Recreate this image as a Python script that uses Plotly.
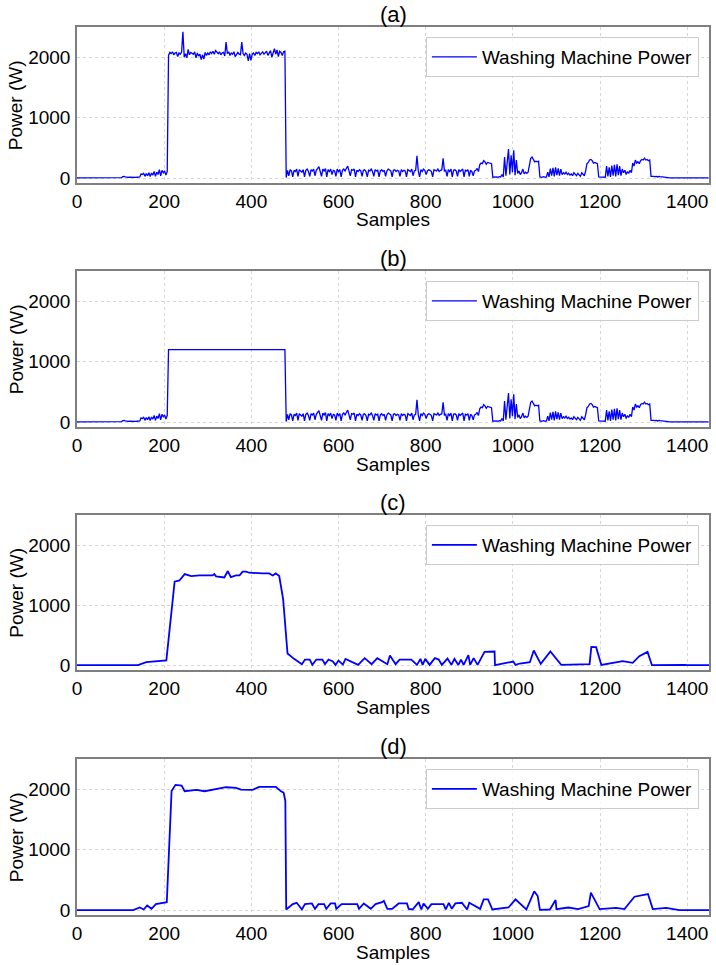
import plotly.graph_objects as go
from plotly.subplots import make_subplots

# ---------------- data ----------------
# sample index grids (every 3rd sample) for the raw signal
PRE_SAMPLES = list(range(0, 210, 3))        # 0 .. 207
PLATEAU_SAMPLES = list(range(210, 480, 3))  # 210 .. 477
POST_SAMPLES = list(range(480, 1450, 3))    # 480 .. 1449

LOW_PRE = [
    4, 4, 4, 4, 4, 4, 4, 4, 4, 4, 4, 4, 4, 4, 4, 4, 4,
    4, 4, 4, 4, 4, 4, 4, 4, 4, 4, 4, 4, 4, 4, 4, 4, 4,
    8, 25, 30, 22, 15, 14, 15, 12, 14, 15, 14, 12, 15, 14, 20,
    70, 60, 80, 30, 75, 40, 90, 25, 85, 50, 110, 30, 100, 60, 140, 40, 130, 90, 120, 50, 110,
]

A_PLATEAU = [
    2030, 2080, 2060, 2090, 2040, 2070, 2080, 2010, 2070, 2050,
    2090, 2420, 2000, 2060, 1990, 2130, 2040, 2080, 2060, 2050,
    2090, 1990, 2070, 2020, 2050, 1960, 2040, 1970, 2080, 2030,
    2070, 2040, 2090, 2060, 2100, 2050, 2110, 2080, 2060, 2090,
    2040, 2070, 2080, 2020, 2250, 2060, 2090, 2030, 2070, 2050,
    2090, 2010, 2060, 2080, 2050, 2040, 2250, 2060, 2030, 2070,
    2050, 1940, 2060, 1950, 2050, 2070, 2030, 2080, 2060, 2090,
    2040, 2070, 2090, 2050, 2080, 2100, 2030, 2060, 2110, 2000,
    2090, 2140, 2050, 2120, 2010, 2100, 2080, 2030, 2090, 2100,
]

LOW_POST = [
    10, 130, 40, 140, 120, 20, 130, 110, 150, 30, 140, 120,
    100, 140, 20, 130, 150, 110, 30, 140, 120, 150, 40, 130,
    160, 190, 110, 30, 150, 120, 160, 20, 140, 110, 150, 60,
    130, 120, 30, 150, 110, 140, 20, 130, 150, 120, 160, 200,
    120, 40, 140, 130, 150, 20, 130, 110, 140, 120, 30, 130,
    140, 110, 20, 130, 120, 150, 110, 30, 140, 120, 130, 20,
    120, 140, 110, 130, 30, 120, 150, 130, 120, 20, 130, 140,
    110, 130, 120, 30, 140, 110, 130, 120, 20, 140, 130, 110,
    150, 40, 120, 130, 370, 120, 20, 140, 110, 150, 130, 60,
    120, 140, 130, 110, 20, 140, 130, 120, 150, 110, 130, 140,
    330, 120, 130, 30, 140, 110, 150, 20, 130, 140, 120, 30,
    140, 110, 130, 150, 20, 130, 120, 140, 30, 130, 110, 40,
    120, 130, 160, 110, 220, 250, 240, 290, 270, 230, 260, 250,
    250, 240, 15, 20, 15, 20, 15, 25, 20, 60, 20, 350,
    40, 300, 480, 60, 380, 100, 460, 50, 300, 80, 120, 60,
    90, 150, 70, 100, 80, 100, 200, 330, 350, 300, 270, 280,
    270, 280, 20, 15, 20, 25, 15, 20, 100, 20, 160, 40,
    170, 30, 180, 50, 160, 40, 150, 60, 90, 70, 100, 60,
    80, 50, 70, 40, 90, 60, 40, 80, 50, 30, 90, 60,
    40, 120, 240, 260, 300, 310, 290, 250, 260, 250, 240, 20,
    20, 15, 20, 25, 15, 200, 30, 180, 20, 210, 40, 220,
    30, 230, 50, 200, 40, 150, 90, 130, 60, 110, 80, 130,
    90, 250, 200, 300, 250, 270, 240, 290, 310, 300, 330, 300,
    310, 290, 300, 30, 35, 30, 25, 30, 20, 30, 25, 20,
    20, 15, 10, 8, 8, 5, 5, 5, 5, 5, 5, 5,
    5, 5, 5, 5, 5, 5, 5, 5, 5, 5, 5, 5,
    5, 5, 5, 5, 5, 5, 5, 5, 5, 5, 5, 5,
]

# (b): plateau replaced by a flat level
B_PLATEAU_X = [210, 477]
B_PLATEAU_Y = [1200, 1200]

# (c) coarse reconstruction
C_X = [0, 140, 159, 205, 224, 235, 247, 262, 281, 311, 315, 319, 338, 346, 353, 365, 373, 380, 388, 395,
       426, 441, 449, 456, 464, 473, 483, 498, 516, 523, 534, 540, 549, 563, 569, 577, 587, 593, 600, 610,
       616, 632, 645, 660, 676, 689, 712, 718, 731, 740, 767, 780, 788, 793, 799, 809, 821, 830, 837, 850,
       859, 866, 875, 881, 887, 898, 902, 910, 919, 935, 958, 959, 1001, 1006, 1016, 1039, 1048, 1064, 1086,
       1111, 1176, 1180, 1191, 1203, 1252, 1275, 1290, 1309, 1319, 1393, 1400, 1450]
C_Y = [0, 0, 50, 80, 1390, 1410, 1517, 1483, 1494, 1494, 1517, 1478, 1461, 1567, 1467, 1494, 1494, 1556, 1556, 1539,
       1528, 1528, 1494, 1528, 1483, 1094, 194, 106, 17, 94, 94, 5, 94, 94, 17, 94, 61, 5, 78, 10,
       105, 50, 5, 117, 17, 117, 17, 161, 17, 94, 94, 5, 105, 5, 105, 5, 117, 94, 5, 111,
       5, 105, 5, 94, 5, 167, 5, 117, 5, 222, 228, 0, 61, 5, 28, 50, 244, 22, 228,
       5, 17, 305, 300, 5, 67, 39, 150, 222, 0, 5, 0, 0]

# (d) coarse reconstruction
D_X = [0, 129, 144, 153, 161, 171, 181, 206, 217, 226, 240, 247, 274, 293, 342, 365, 376, 403, 418, 456,
       468, 474, 478, 480, 495, 504, 516, 523, 539, 546, 554, 567, 572, 582, 592, 595, 607, 643, 647, 658,
       674, 685, 700, 704, 712, 723, 738, 757, 761, 770, 784, 790, 795, 805, 813, 841, 846, 853, 860, 868,
       883, 895, 900, 925, 933, 943, 953, 990, 1006, 1031, 1049, 1057, 1062, 1085, 1098, 1100, 1127, 1150,
       1174, 1179, 1199, 1237, 1256, 1279, 1310, 1321, 1352, 1382, 1450]
D_Y = [0, 0, 44, 11, 78, 22, 100, 133, 1972, 2072, 2061, 1967, 1989, 1967, 2033, 2022, 1994, 1989, 2039, 2039,
       1967, 1944, 1806, 11, 100, 122, 11, 100, 111, 22, 100, 100, 22, 111, 111, 22, 100, 100, 22, 111,
       22, 100, 133, 155, 22, 22, 111, 111, 22, 11, 133, 11, 111, 22, 100, 100, 11, 122, 22, 111,
       122, 11, 122, 22, 178, 178, 11, 44, 178, 11, 311, 233, 5, 11, 167, 17, 44, 17,
       67, 289, 17, 39, 17, 222, 267, 17, 39, 0, 0]

PANEL_TITLES = ["(a)", "(b)", "(c)", "(d)"]
SERIES_NAME = "Washing Machine Power"
X_LABEL = "Samples"
Y_LABEL = "Power (W)"
X_TICKS = [0, 200, 400, 600, 800, 1000, 1200, 1400]
Y_TICKS = [0, 1000, 2000]

# ---------------- figure ----------------
FONT = "Liberation Sans, Arial, sans-serif"
fig = make_subplots(rows=4, cols=1)

a_x = PRE_SAMPLES + PLATEAU_SAMPLES + POST_SAMPLES
a_y = LOW_PRE + A_PLATEAU + LOW_POST
b_x = PRE_SAMPLES + B_PLATEAU_X + POST_SAMPLES
b_y = LOW_PRE + B_PLATEAU_Y + LOW_POST

series = [(a_x, a_y, 1.3), (b_x, b_y, 1.3), (C_X, C_Y, 1.8), (D_X, D_Y, 1.8)]
legends = ["legend", "legend2", "legend3", "legend4"]
for i, (xs, ys, lw) in enumerate(series):
    fig.add_trace(go.Scatter(x=xs, y=ys, mode="lines", name=SERIES_NAME,
                             line=dict(color="#0000ff", width=lw),
                             legend=legends[i], showlegend=True),
                  row=i + 1, col=1)

# layout geometry
W, H = 716, 965
L_M, R_M = 77, 5
top_m, bot_m = 27, 50
ph = H - top_m - bot_m
pw = W - L_M - R_M
axes_px = [(27, 183), (271, 427), (515, 670), (759, 915)]

def py(p):
    return (H - bot_m - p) / ph

def px(p):
    return (p - L_M) / pw

txt = dict(size=19, color="#000", family=FONT)
for i, (t, b) in enumerate(axes_px):
    n = "" if i == 0 else str(i + 1)
    fig.layout["yaxis" + n].domain = [max(0, py(b)), min(1, py(t))]
    common = dict(showgrid=True, gridcolor="#d6d6d6", griddash="dot", gridwidth=1,
                  showline=True, linecolor="#7f7f7f", linewidth=1.5, mirror=True,
                  ticks="", ticklen=0, zeroline=False, tickfont=txt)
    fig.layout["xaxis" + n].update(range=[0, 1450], tickvals=X_TICKS, **common,
                                   ticklabelstandoff=0)
    fig.layout["yaxis" + n].update(range=[-80, 2500], tickvals=Y_TICKS, **common,
                                   ticklabelstandoff=1)
    # panel title
    fig.add_annotation(text=PANEL_TITLES[i], xref="x" + n + " domain", yref="y" + n + " domain",
                       x=0.5, y=1, xanchor="center", yanchor="bottom", showarrow=False,
                       font=dict(size=22, color="#000", family=FONT), yshift=-2)
    # x axis label
    fig.add_annotation(text=X_LABEL, xref="x" + n + " domain", yref="paper",
                       x=0.5, y=py(b + 37), xanchor="center", yanchor="middle", showarrow=False,
                       font=txt)
    # y axis label
    fig.add_annotation(text=Y_LABEL, xref="paper", yref="y" + n + " domain",
                       x=px(16), y=0.5, xanchor="center", yanchor="middle", showarrow=False,
                       textangle=-90, font=txt)
    leg = dict(x=0.984, y=py(t + 10), xanchor="right", yanchor="top",
               bgcolor="rgba(255,255,255,0.85)", bordercolor="#cccccc", borderwidth=1,
               itemwidth=45, font=txt)
    fig.layout[legends[i]] = leg

fig.update_layout(width=W, height=H, margin=dict(l=L_M, r=R_M, t=top_m, b=bot_m),
                  plot_bgcolor="white", paper_bgcolor="white",
                  font=dict(family=FONT, color="#000"))

fig.write_html("out.html")
